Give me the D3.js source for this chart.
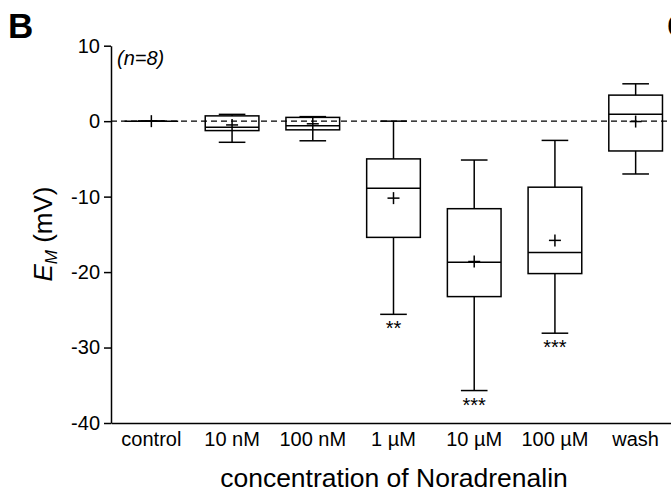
<!DOCTYPE html>
<html>
<head>
<meta charset="utf-8">
<script src="https://cdn.jsdelivr.net/npm/d3@7"></script>
<style>
  html, body { margin: 0; padding: 0; background: #fff; }
  svg { display: block; font-family: "Liberation Sans", Arial, sans-serif; }
</style>
</head>
<body>
<svg id="chart" width="671" height="497"></svg>
<script>
// Membrane potential change (E_M, mV) per Noradrenalin concentration, n = 8
const categories = ["control", "10 nM", "100 nM", "1 µM", "10 µM", "100 µM", "wash"];
const mins    = [0, -2.8, -2.6, -25.6, -35.7, -28.1, -7.0];
const q1s     = [0, -1.25, -1.15, -15.4, -23.25, -20.2, -3.95];
const medians = [0, -0.8, -0.6, -8.9, -18.7, -17.4, 0.9];
const q3s     = [0, 0.7, 0.5, -5.0, -11.6, -8.75, 3.45];
const maxs    = [0, 0.9, 0.6, 0, -5.15, -2.55, 4.95];
const means   = [0, -0.5, -0.35, -10.2, -18.6, -15.8, -0.05];
const stars   = ["", "", "", "**", "***", "***", ""];
const yTicks  = [-40, -30, -20, -10, 0, 10];

const boxes = categories.map((c, i) => ({
  cat: c, min: mins[i], q1: q1s[i], med: medians[i], q3: q3s[i],
  max: maxs[i], mean: means[i], sig: stars[i]
}));

const svg = d3.select("#chart");
const plotLeft = 111, plotRight = 676, plotTop = 45.7, plotBottom = 423;

const x = d3.scaleBand().domain(categories).range([plotLeft, plotRight]).padding(0);
const y = d3.scaleLinear().domain([-40, 10]).range([plotBottom, plotTop]);

const boxW = x.bandwidth() * 0.665;
const capW = x.bandwidth() * 0.33;
const stroke = 1.5;

// zero reference line
svg.append("line")
  .attr("x1", plotLeft).attr("x2", 671)
  .attr("y1", y(0)).attr("y2", y(0))
  .attr("stroke", "#000").attr("stroke-width", 1.3)
  .attr("stroke-dasharray", "6,4");

// axes (plain hyphen for negative tick labels)
const yAxis = svg.append("g")
  .attr("transform", `translate(${plotLeft},0)`)
  .call(d3.axisLeft(y).tickValues(yTicks).tickFormat(d => String(d))
    .tickSize(7).tickSizeOuter(0).tickPadding(4));
const xAxis = svg.append("g")
  .attr("transform", `translate(0,${plotBottom})`)
  .call(d3.axisBottom(x).tickSize(0).tickSizeOuter(0).tickPadding(9));

[yAxis, xAxis].forEach(ax => {
  ax.selectAll("path, line").attr("stroke", "#000").attr("stroke-width", stroke);
  ax.selectAll("text").attr("font-size", 20).attr("fill", "#000")
    .attr("font-family", "'Liberation Sans', Arial, sans-serif");
});

// box plots
const g = svg.append("g").attr("fill", "none").attr("stroke", "#000").attr("stroke-width", stroke);
boxes.forEach(d => {
  const cx = x(d.cat) + x.bandwidth() / 2;
  // whiskers
  g.append("line").attr("x1", cx).attr("x2", cx).attr("y1", y(d.max)).attr("y2", y(d.q3));
  g.append("line").attr("x1", cx).attr("x2", cx).attr("y1", y(d.q1)).attr("y2", y(d.min));
  g.append("line").attr("x1", cx - capW / 2).attr("x2", cx + capW / 2).attr("y1", y(d.max)).attr("y2", y(d.max));
  g.append("line").attr("x1", cx - capW / 2).attr("x2", cx + capW / 2).attr("y1", y(d.min)).attr("y2", y(d.min));
  // box and median
  g.append("rect").attr("x", cx - boxW / 2).attr("width", boxW)
    .attr("y", y(d.q3)).attr("height", Math.max(0, y(d.q1) - y(d.q3)))
    .attr("fill", "none");
  g.append("line").attr("x1", cx - boxW / 2).attr("x2", cx + boxW / 2).attr("y1", y(d.med)).attr("y2", y(d.med));
  // mean marker
  const m = y(d.mean);
  g.append("line").attr("x1", cx - 6).attr("x2", cx + 6).attr("y1", m).attr("y2", m);
  g.append("line").attr("x1", cx).attr("x2", cx).attr("y1", m - 6).attr("y2", m + 6);
  // significance
  if (d.sig) {
    svg.append("text").attr("x", cx).attr("y", y(d.min) + 21)
      .attr("text-anchor", "middle").attr("font-size", 20).text(d.sig);
  }
});

// sample size note
svg.append("text").attr("x", 117).attr("y", 65)
  .attr("font-size", 20).attr("font-style", "italic").text("(n=8)");

// panel letters (the next panel's letter starts at the right edge)
svg.append("text").attr("x", 8).attr("y", 38)
  .attr("font-size", 35).attr("font-weight", "bold").text("B");
svg.append("text").attr("x", 667).attr("y", 38)
  .attr("font-size", 35).attr("font-weight", "bold").text("C");

// axis titles
svg.append("text").attr("x", 394).attr("y", 487)
  .attr("text-anchor", "middle").attr("font-size", 26.5).text("concentration of Noradrenalin");

const yt = svg.append("text")
  .attr("transform", "translate(52,234) rotate(-90)")
  .attr("text-anchor", "middle").attr("font-size", 26);
yt.append("tspan").attr("font-style", "italic").text("E");
yt.append("tspan").attr("font-style", "italic").attr("font-size", 17).attr("dy", 5).text("M");
yt.append("tspan").attr("dy", -5).text(" (mV)");
</script>
</body>
</html>
